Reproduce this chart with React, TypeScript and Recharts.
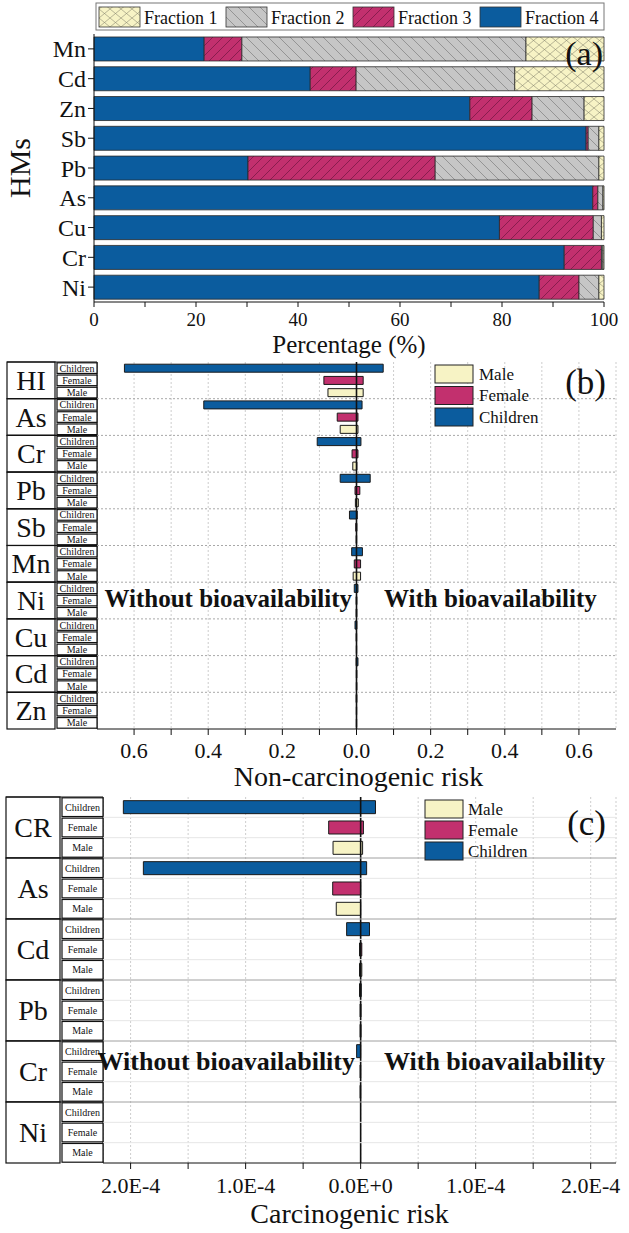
import React from "react";
import { BarChart, Bar, XAxis, YAxis, CartesianGrid, ReferenceLine, Cell } from "recharts";

const FONT = '"Liberation Serif", "Times New Roman", serif';
const INK = "#111";

const BLUE = "#0b5c9e";
const MAGENTA = "#c2306e";
const CREAM = "#f7f3c5";
const GRAY = "#c6c6c6";

// (a) chemical fractions of each metal, %
const METALS = ["Mn", "Cd", "Zn", "Sb", "Pb", "As", "Cu", "Cr", "Ni"];
const FRACTION_4 = [21.6, 42.4, 73.7, 96.5, 30.2, 97.8, 79.5, 92.2, 87.3];
const FRACTION_3 = [7.4, 9.0, 12.2, 0.4, 36.7, 1.0, 18.4, 7.3, 7.8];
const FRACTION_2 = [55.7, 31.1, 10.2, 2.1, 32.1, 1.0, 1.6, 0.3, 3.9];
const FRACTION_1 = [15.3, 17.5, 3.9, 1.0, 1.0, 0.2, 0.5, 0.2, 1.0];
const PCT_TICKS = [0, 10, 20, 30, 40, 50, 60, 70, 80, 90, 100];

// bars are stacked left to right: fraction 4 first
const FRACTIONS = [
  { key: "f4", name: "Fraction 4", fill: BLUE },
  { key: "f3", name: "Fraction 3", fill: "url(#pat-f3)" },
  { key: "f2", name: "Fraction 2", fill: "url(#pat-f2)" },
  { key: "f1", name: "Fraction 1", fill: "url(#pat-f1)" },
];
const LEGEND_ORDER = ["f1", "f2", "f3", "f4"];

const SUBGROUPS = ["Children", "Female", "Male"];
const SUB_COLORS: Record<string, string> = { Children: BLUE, Female: MAGENTA, Male: CREAM };

// (b) non-carcinogenic risk; "without" values are plotted to the left
const NC_GROUPS = ["HI", "As", "Cr", "Pb", "Sb", "Mn", "Ni", "Cu", "Cd", "Zn"];
const NC_WITHOUT_CHILDREN = [0.626, 0.412, 0.106, 0.044, 0.019, 0.013, 0.006, 0.004, 0.001, 0.001];
const NC_WITHOUT_FEMALE = [0.088, 0.052, 0.012, 0.004, 0.002, 0.006, 0.001, 0.001, 0.0005, 0.0005];
const NC_WITHOUT_MALE = [0.077, 0.044, 0.01, 0.003, 0.001, 0.009, 0.001, 0.0005, 0.0005, 0.0005];
const NC_WITH_CHILDREN = [0.072, 0.015, 0.012, 0.037, 0.002, 0.016, 0.004, 0.001, 0.004, 0.001];
const NC_WITH_FEMALE = [0.018, 0.004, 0.004, 0.009, 0.001, 0.011, 0.001, 0.0005, 0.001, 0.0005];
const NC_WITH_MALE = [0.018, 0.004, 0.001, 0.005, 0.0005, 0.011, 0.001, 0.0005, 0.001, 0.0005];
const NC_TICKS = [-0.6, -0.5, -0.4, -0.3, -0.2, -0.1, 0, 0.1, 0.2, 0.3, 0.4, 0.5, 0.6];

// (c) carcinogenic risk
const CR_GROUPS = ["CR", "As", "Cd", "Pb", "Cr", "Ni"];
const CR_WITHOUT_CHILDREN = [2.063e-4, 1.889e-4, 0.122e-4, 0.01e-4, 0.035e-4, 0];
const CR_WITHOUT_FEMALE = [0.278e-4, 0.243e-4, 0.01e-4, 0.005e-4, 0.005e-4, 0];
const CR_WITHOUT_MALE = [0.24e-4, 0.212e-4, 0.01e-4, 0.005e-4, 0.005e-4, 0];
const CR_WITH_CHILDREN = [0.129e-4, 0.052e-4, 0.077e-4, 0.005e-4, 0, 0];
const CR_WITH_FEMALE = [0.024e-4, 0, 0.01e-4, 0.003e-4, 0, 0];
const CR_WITH_MALE = [0.017e-4, 0, 0.01e-4, 0.003e-4, 0, 0];
const CR_TICKS = [-2e-4, -1.5e-4, -1e-4, -0.5e-4, 0, 0.5e-4, 1e-4, 1.5e-4, 2e-4];

const fractionData = METALS.map((metal, i) => ({
  metal,
  f4: FRACTION_4[i],
  f3: FRACTION_3[i],
  f2: FRACTION_2[i],
  f1: FRACTION_1[i],
}));

function buildRows(groups: string[], without: number[][], withB: number[][]) {
  return groups.flatMap((g, gi) =>
    SUBGROUPS.map((s, si) => ({
      key: `${g}|${s}`,
      sub: s,
      lo: -without[si][gi],
      hi: withB[si][gi],
    }))
  );
}

const ncRows = buildRows(
  NC_GROUPS,
  [NC_WITHOUT_CHILDREN, NC_WITHOUT_FEMALE, NC_WITHOUT_MALE],
  [NC_WITH_CHILDREN, NC_WITH_FEMALE, NC_WITH_MALE]
);
const crRows = buildRows(
  CR_GROUPS,
  [CR_WITHOUT_CHILDREN, CR_WITHOUT_FEMALE, CR_WITHOUT_MALE],
  [CR_WITH_CHILDREN, CR_WITH_FEMALE, CR_WITH_MALE]
);

const rangeOf = (d: any) => [d.lo, d.hi];

function Patterns() {
  return (
    <svg width={0} height={0} style={{ position: "absolute" }}>
      <defs>
        <pattern id="pat-f1" patternUnits="userSpaceOnUse" width={11} height={9}>
          <rect width={11} height={9} fill={CREAM} />
          <path d="M0,0 L11,9 M11,0 L0,9" stroke="#8c8a72" strokeWidth={0.6} />
        </pattern>
        <pattern id="pat-f2" patternUnits="userSpaceOnUse" width={11} height={11}>
          <rect width={11} height={11} fill={GRAY} />
          <path d="M0,0 L11,11 M-1,10 L1,12 M10,-1 L12,1" stroke="#727272" strokeWidth={0.6} />
        </pattern>
        <pattern id="pat-f3" patternUnits="userSpaceOnUse" width={10} height={10}>
          <rect width={10} height={10} fill={MAGENTA} />
          <path d="M0,10 L10,0 M-1,1 L1,-1 M9,11 L11,9" stroke="#62123a" strokeWidth={0.6} />
        </pattern>
      </defs>
    </svg>
  );
}

const HmsLabel = (props: any) => {
  const vb = props.viewBox || { x: 0, y: 34, width: 94, height: 268 };
  const cx = vb.x + 19;
  const cy = vb.y + vb.height / 2;
  return (
    <text x={cx} y={cy} transform={`rotate(-90 ${cx} ${cy})`} textAnchor="middle"
      dominantBaseline="central" fontSize={30} fontFamily={FONT} fill={INK}>
      HMs
    </text>
  );
};

// x-axis title drawn from the axis viewBox: baseline dy below the axis line
const axisTitle = (text: string, dy: number, size: number, dx = 0) => (props: any) => {
  const vb = props.viewBox;
  if (!vb) return null;
  return (
    <text x={vb.x + vb.width / 2 + dx} y={vb.y + dy} textAnchor="middle"
      fontSize={size} fontFamily={FONT} fill={INK}>
      {text}
    </text>
  );
};

function FractionPanel() {
  return (
    <BarChart width={629} height={362} data={fractionData} layout="vertical"
      margin={{ top: 34, right: 25, bottom: 0, left: 0 }} barCategoryGap="10%">
      <XAxis type="number" domain={[0, 100]} ticks={PCT_TICKS} interval={0}
        tickFormatter={(v: number) => (v % 20 === 0 ? String(v) : "")}
        tick={{ fill: INK, fontSize: 19, fontFamily: FONT }} tickSize={5} tickMargin={6}
        stroke={INK} height={60}
        label={{ content: axisTitle("Percentage (%)", 51, 25) }} />
      <XAxis xAxisId="top" orientation="top" type="number" domain={[0, 100]} tick={false}
        tickLine={false} height={0} stroke={INK} />
      <YAxis type="category" dataKey="metal" width={94} interval={0} stroke={INK}
        tick={{ fill: INK, fontSize: 24, fontFamily: FONT }} tickSize={6} tickMargin={2}
        label={{ content: HmsLabel }} />
      <YAxis yAxisId="r" orientation="right" type="category" dataKey="metal" tick={false}
        tickLine={false} width={0} stroke={INK} />
      {FRACTIONS.map((f) => (
        <Bar key={f.key} dataKey={f.key} name={f.name} stackId="a" fill={f.fill}
          stroke="#2a2a2a" strokeWidth={0.8} isAnimationActive={false} />
      ))}
    </BarChart>
  );
}

function RowTick(props: any) {
  const { y, payload, cfg } = props;
  const [group, sub] = String(payload.value).split("|");
  const h = cfg.rowH;
  const top = y - h / 2;
  const first = sub === SUBGROUPS[0];
  return (
    <g>
      {first && (
        <g>
          <rect x={cfg.colA} y={top} width={cfg.colB - cfg.colA} height={h * 3}
            fill="#fff" stroke={INK} strokeWidth={1.2} />
          <text x={(cfg.colA + cfg.colB) / 2} y={top + 1.5 * h} textAnchor="middle"
            dominantBaseline="central" fontSize={cfg.groupFont} fontFamily={FONT} fill={INK}>
            {group}
          </text>
          <line x1={cfg.colA} x2={cfg.colC} y1={top} y2={top} stroke={INK} strokeWidth={1.2} />
          {group !== cfg.groups[0] && (
            <line x1={cfg.colC} x2={cfg.right} y1={top} y2={top} stroke={cfg.groupLine}
              strokeDasharray={cfg.groupDash} strokeWidth={1} />
          )}
        </g>
      )}
      {!first && cfg.rowLine && (
        <line x1={cfg.colC} x2={cfg.right} y1={top} y2={top} stroke={cfg.rowLine} strokeWidth={1} />
      )}
      <rect x={cfg.colB + 2} y={top + 0.8} width={cfg.colC - cfg.colB - 2} height={h - 1.6}
        fill="#fff" stroke={INK} strokeWidth={1.2} />
      <text x={(cfg.colB + 2 + cfg.colC) / 2} y={y} textAnchor="middle" dominantBaseline="central"
        fontSize={cfg.subFont} fontFamily={FONT} fill={INK}>
        {sub}
      </text>
    </g>
  );
}

function RiskPanel({ rows, cfg }: { rows: any[]; cfg: any }) {
  const rowH = (cfg.height - cfg.marginTop - cfg.axisHeight) / rows.length;
  const tickCfg = { ...cfg, rowH };
  return (
    <BarChart width={629} height={cfg.height} data={rows} layout="vertical"
      margin={{ top: cfg.marginTop, right: 629 - cfg.right, bottom: 0, left: 0 }}
      barCategoryGap="18%">
      <CartesianGrid horizontal={false} stroke="#cdcdcd" strokeDasharray="2 2" />
      <XAxis type="number" domain={cfg.domain} ticks={cfg.ticks} interval={0} allowDataOverflow
        tickFormatter={cfg.format} stroke={INK} height={cfg.axisHeight}
        tick={{ fill: INK, fontSize: cfg.tickFont, fontFamily: FONT }} tickSize={6} tickMargin={cfg.tickMargin}
        label={{ content: axisTitle(cfg.title, cfg.titleDy, 28, cfg.titleDx) }} />
      <XAxis xAxisId="top" orientation="top" type="number" domain={cfg.domain} tick={false}
        tickLine={false} height={0} stroke={INK} />
      <YAxis type="category" dataKey="key" width={cfg.colC} interval={0} stroke={INK}
        tickLine={false} tick={(p: any) => <RowTick {...p} cfg={tickCfg} />} />
      <YAxis yAxisId="r" orientation="right" type="category" dataKey="key" tick={false}
        tickLine={false} width={0} stroke={INK} />
      <Bar dataKey={rangeOf} stroke="#1a1a1a" strokeWidth={1} isAnimationActive={false}>
        {rows.map((r) => (
          <Cell key={r.key} fill={SUB_COLORS[r.sub]} />
        ))}
      </Bar>
      <ReferenceLine x={0} stroke={INK} strokeWidth={1.6} />
    </BarChart>
  );
}

const NC_CFG = {
  groups: NC_GROUPS,
  height: 447, marginTop: 7, axisHeight: 73,
  colA: 7, colB: 55, colC: 97, right: 616,
  groupFont: 28, subFont: 10, tickFont: 22, tickMargin: 7,
  domain: [-0.7, 0.7], ticks: NC_TICKS,
  format: (v: number) => (Math.round(Math.abs(v) * 10) % 2 === 0 ? Math.abs(v).toFixed(1) : ""),
  title: "Non-carcinogenic risk", titleDy: 57, titleDx: 2,
  groupLine: "#a8a8a8", groupDash: "2 2", rowLine: null,
};

const CR_CFG = {
  groups: CR_GROUPS,
  height: 443, marginTop: 7, axisHeight: 70,
  colA: 6, colB: 60, colC: 103, right: 616,
  groupFont: 28, subFont: 10, tickFont: 22, tickMargin: 8,
  domain: [-2.24e-4, 2.22e-4], ticks: CR_TICKS,
  format: (v: number) =>
    Math.round(Math.abs(v) * 2e4) % 2 !== 0 ? "" : v === 0 ? "0.0E+0" : `${(Math.abs(v) * 1e4).toFixed(1)}E-4`,
  title: "Carcinogenic risk", titleDy: 60, titleDx: -10,
  groupLine: "#a0a0a0", groupDash: undefined, rowLine: "#e6e6e6",
};

function Overlay() {
  const legendA = LEGEND_ORDER.map((k) => FRACTIONS.find((f) => f.key === k)!);
  const subLegend = [...SUBGROUPS].reverse();
  const txt = { fontFamily: FONT, fill: INK };
  return (
    <svg width={629} height={1233} style={{ position: "absolute", left: 0, top: 0, pointerEvents: "none" }}>
      {/* (a) legend */}
      <rect x={96} y={3} width={508} height={27} fill="#fff" stroke="#777" strokeWidth={1} />
      {legendA.map((f, i) => (
        <g key={f.key}>
          <rect x={99 + 127 * i} y={7} width={41} height={20} fill={f.fill} stroke="#333" strokeWidth={0.8} />
          <text x={144 + 127 * i} y={17.5} dominantBaseline="central" fontSize={18} {...txt}>{f.name}</text>
        </g>
      ))}
      <text x={603} y={53} textAnchor="end" dominantBaseline="central" fontSize={34} {...txt}>(a)</text>

      {/* (b) */}
      {subLegend.map((s, i) => (
        <g key={`b-${s}`}>
          <rect x={435} y={365 + 21.5 * i} width={38} height={18} fill={SUB_COLORS[s]} stroke="#222" strokeWidth={1} />
          <text x={479} y={374 + 21.5 * i} dominantBaseline="central" fontSize={17} {...txt}>{s}</text>
        </g>
      ))}
      <text x={606} y={382} textAnchor="end" dominantBaseline="central" fontSize={35} {...txt}>(b)</text>
      <text x={352} y={598} textAnchor="end" dominantBaseline="central" fontSize={25} fontWeight="bold" {...txt}>Without bioavailability</text>
      <text x={384} y={598} dominantBaseline="central" fontSize={25} fontWeight="bold" {...txt}>With bioavailability</text>

      {/* (c) */}
      {subLegend.map((s, i) => (
        <g key={`c-${s}`}>
          <rect x={425} y={800 + 21 * i} width={38} height={18} fill={SUB_COLORS[s]} stroke="#222" strokeWidth={1} />
          <text x={468} y={809 + 21 * i} dominantBaseline="central" fontSize={17} {...txt}>{s}</text>
        </g>
      ))}
      <text x={606} y={823} textAnchor="end" dominantBaseline="central" fontSize={35} {...txt}>(c)</text>
      <text x={355} y={1061} textAnchor="end" dominantBaseline="central" fontSize={26} fontWeight="bold" {...txt}>Without bioavailability</text>
      <text x={384} y={1061} dominantBaseline="central" fontSize={26} fontWeight="bold" {...txt}>With bioavailability</text>
    </svg>
  );
}

export default function App() {
  return (
    <div style={{ position: "absolute", left: 0, top: 0, width: 629, height: 1233, background: "#fff", fontFamily: FONT }}>
      <Patterns />
      <div style={{ position: "absolute", left: 0, top: 0 }}>
        <FractionPanel />
      </div>
      <div style={{ position: "absolute", left: 0, top: 355 }}>
        <RiskPanel rows={ncRows} cfg={NC_CFG} />
      </div>
      <div style={{ position: "absolute", left: 0, top: 790 }}>
        <RiskPanel rows={crRows} cfg={CR_CFG} />
      </div>
      <Overlay />
    </div>
  );
}
